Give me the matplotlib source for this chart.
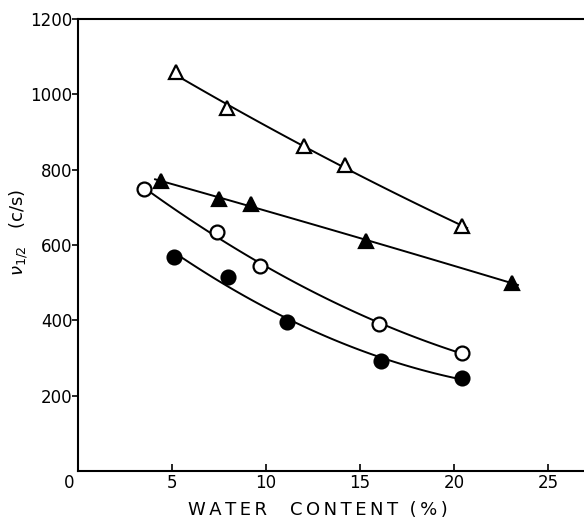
import numpy as np
import matplotlib.pyplot as plt
from matplotlib.transforms import ScaledTranslation

# water content (%) and nu_1/2 (c/s)
x_open_tri = [5.2, 7.9, 12.0, 14.2, 20.4]
y_open_tri = [1058, 963, 862, 812, 650]

x_fill_tri = [4.4, 7.5, 9.2, 15.3, 23.1]
y_fill_tri = [770, 722, 709, 611, 499]

x_open_circ = [3.5, 7.4, 9.7, 16.0, 20.4]
y_open_circ = [748, 634, 544, 391, 314]

x_fill_circ = [5.1, 8.0, 11.1, 16.1, 20.4]
y_fill_circ = [568, 515, 396, 293, 248]

x_ticks = [0, 5, 10, 15, 20, 25]
y_ticks = [200, 400, 600, 800, 1000, 1200]

plt.rcParams['font.family'] = 'DejaVu Sans'
fig = plt.figure(figsize=(5.84, 5.18), dpi=100)
ax = fig.add_axes([78 / 584, 47 / 518, 506 / 584, 452 / 518])


def draw(xs, ys, marker, filled, x0=None, x1=None):
    coef = np.polyfit(xs, ys, 2)
    lo = min(xs) if x0 is None else x0
    hi = max(xs) + 0.3 if x1 is None else x1
    xx = np.linspace(lo, hi, 100)
    ax.plot(xx, np.polyval(coef, xx), color='black', lw=1.4, zorder=2)
    ax.plot(xs, ys, linestyle='none', marker=marker, markersize=10,
            markeredgecolor='black', markeredgewidth=1.6,
            markerfacecolor='black' if filled else 'white', zorder=3)


draw(x_open_tri, y_open_tri, '^', False)
draw(x_fill_tri, y_fill_tri, '^', True, x0=4.1)
draw(x_open_circ, y_open_circ, 'o', False)
draw(x_fill_circ, y_fill_circ, 'o', True)

ax.set_xlim(0, 506 / 18.8)
ax.set_ylim(0, 1200)
ax.set_xticks(x_ticks)
ax.set_yticks(y_ticks)
ax.spines['right'].set_visible(False)
for s in ['left', 'bottom', 'top']:
    ax.spines[s].set_linewidth(1.5)
ax.tick_params(axis='x', direction='in', length=5, width=1.2, labelsize=12, pad=2)
ax.tick_params(axis='y', direction='out', length=4, width=1.2, labelsize=12, pad=0)

# the zero label sits left of its tick in the original
lab0 = ax.get_xticklabels()[0]
lab0.set_transform(lab0.get_transform() + ScaledTranslation(-0.09, 0, fig.dpi_scale_trans))

hs = '\u200a\u200a'
xlabel = hs.join('WATER') + '    ' + hs.join('CONTENT') + '  ' + hs.join('(%)')
fig.text(318 / 584, 1 - 510 / 518, xlabel,
         fontsize=13, ha='center', va='center')
fig.text(19 / 584, 1 - 232 / 518, r'$\nu_{1/2}$   (c/s)', fontsize=13,
         rotation=90, ha='center', va='center')

fig.savefig('out.png', dpi=100)
